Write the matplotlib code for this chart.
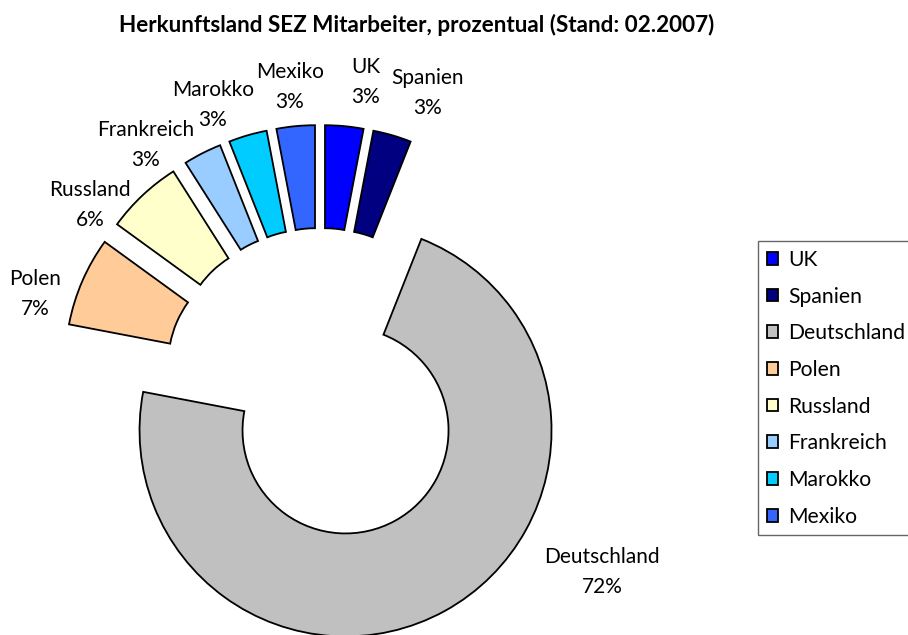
import matplotlib.pyplot as plt

plt.rcParams['font.family'] = ['Lato', 'DejaVu Sans']

countries = ['UK', 'Spanien', 'Deutschland', 'Polen', 'Russland',
             'Frankreich', 'Marokko', 'Mexiko']
shares = [3, 3, 72, 7, 6, 3, 3, 3]
colors = ['#0000FF', '#000080', '#C0C0C0', '#FFCC99', '#FFFFCC',
          '#99CCFF', '#00CCFF', '#3366FF']

# label placement in pixels (x, y from top)
label_xy = [(366, 82), (428, 93), (602, 572), (35, 294), (90, 205),
            (146, 145), (213, 105), (290, 87)]

W, H = 908, 635
fig = plt.figure(figsize=(W / 100, H / 100), dpi=100)
ax = fig.add_axes([0, 0, 1, 1])

r_out = 206
r_in = 103
shift = 53  # explode offset, pixels

wedges, _ = ax.pie(shares, colors=colors, radius=r_out, center=(320, 384),
                   explode=[shift] * len(shares),
                   startangle=-90, counterclock=True,
                   wedgeprops=dict(width=r_out - r_in, edgecolor='black',
                                   linewidth=1.3))
ax.set_xlim(0, W)
ax.set_ylim(H, 0)
ax.axis('off')

for name, val, (x, y) in zip(countries, shares, label_xy):
    ax.text(x, y, f'{name}\n{val}%', ha='center', va='center',
            fontsize=15, linespacing=1.65)

fig.text(417 / W, 1 - 25 / H, 'Herkunftsland SEZ Mitarbeiter, prozentual (Stand: 02.2007)',
         ha='center', va='center', fontsize=16.2, fontweight='bold')

leg = ax.legend(wedges, countries, loc='upper left',
                bbox_to_anchor=(758 / W, 1 - 241 / H),
                bbox_transform=fig.transFigure, borderaxespad=0,
                fancybox=False, fontsize=15.2, handlelength=0.55,
                handleheight=0.55, handletextpad=0.45, labelspacing=0.79,
                borderpad=0.42)
leg.get_frame().set_edgecolor('#404040')
leg.get_frame().set_linewidth(1.0)

fig.savefig('out.png', dpi=100)
